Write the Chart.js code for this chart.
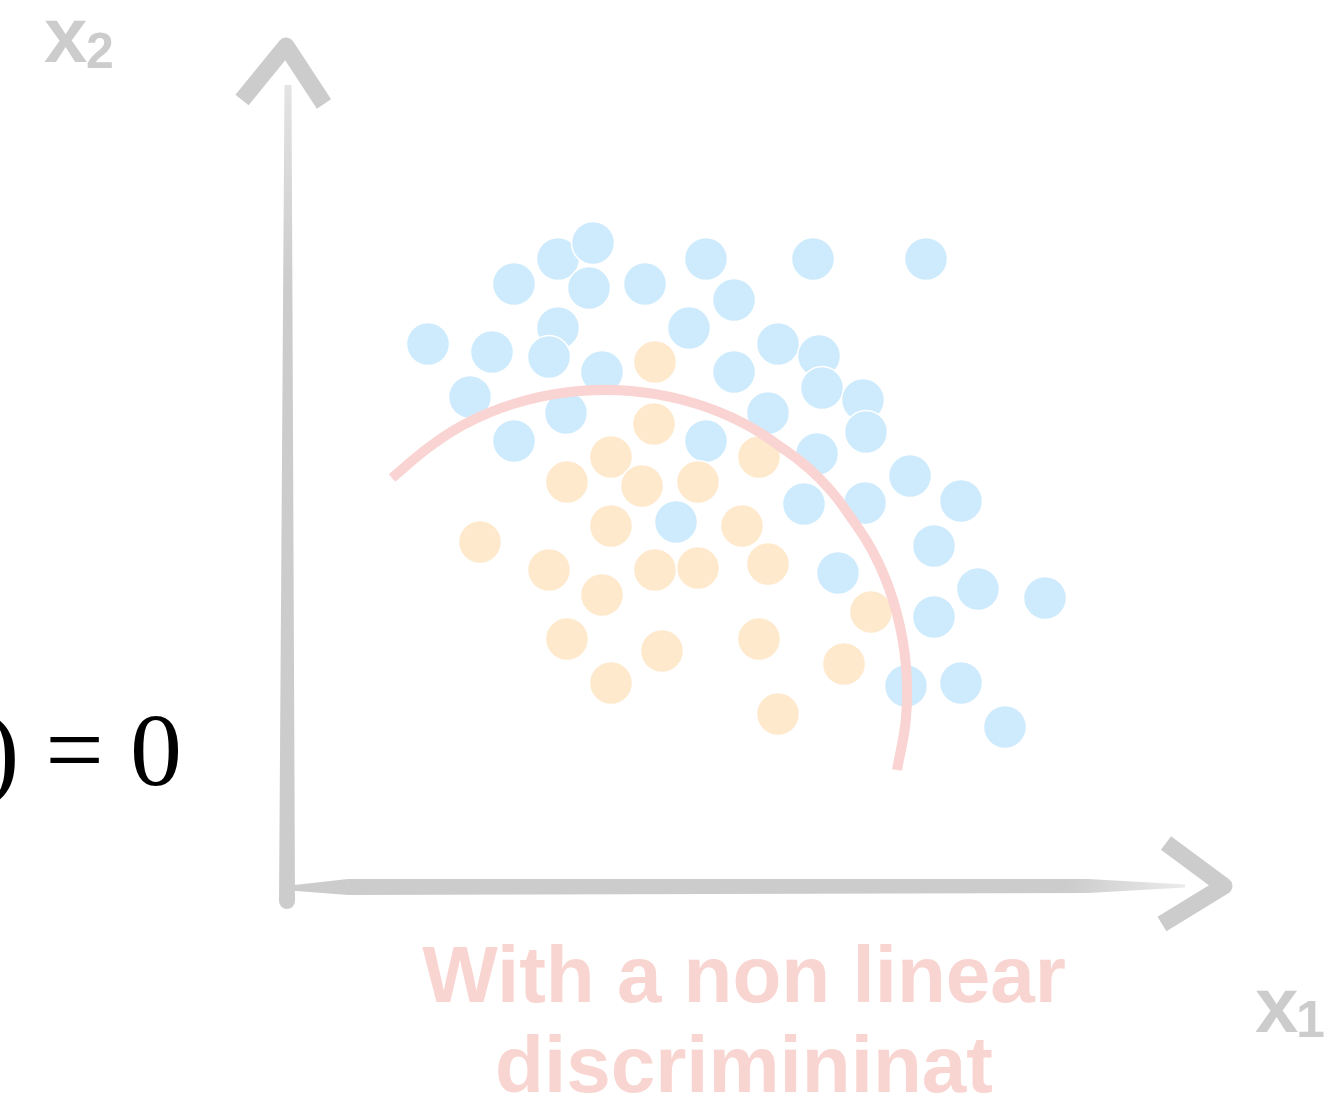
<!DOCTYPE html>
<html>
<head>
<meta charset="utf-8">
<script src="https://cdn.jsdelivr.net/npm/chart.js@4/dist/chart.umd.min.js"></script>
<style>
  body { margin: 0; background: #fff; }
  #wrap { position: relative; width: 1336px; height: 1110px; overflow: hidden; }
  .lbl { position: absolute; line-height: 1; white-space: pre; }
  .gray { color: #cccccc; font-family: "Liberation Sans", Arial, sans-serif; font-weight: bold; }
  .pink { color: #f9d5d1; font-family: "Liberation Sans", Arial, sans-serif; font-weight: bold;
          font-size: 80px; width: 1336px; text-align: center; }
</style>
</head>
<body>
<div id="wrap">
  <canvas id="chart" width="1336" height="1110"></canvas>
  <div class="lbl gray" style="left:44px;top:-4px;font-size:78px">x</div>
  <div class="lbl gray" style="left:86px;top:26px;font-size:50px">2</div>
  <div class="lbl gray" style="left:1255px;top:966px;font-size:78px">x</div>
  <div class="lbl gray" style="left:1296px;top:993px;font-size:52px">1</div>
  <div class="lbl" style="right:1154px;top:698px;font-size:104px;font-family:'Liberation Serif',serif;color:#000">) = 0</div>
  <div class="lbl pink" style="top:935px;left:76px">With a non linear</div>
  <div class="lbl pink" style="top:1025px;left:76px">discrimininat</div>
</div>
<script>
// class A (blue, outer ring)
const blueX = [14.0, 22.6, 27.0, 30.5, 30.1, 35.7, 41.8, 52.5, 63.8, 44.6,
               27.0, 20.4, 26.1, 40.1, 31.4, 44.6, 49.0, 53.1, 53.4, 57.5,
               57.8, 18.2, 27.8, 22.6, 48.0, 41.8, 52.9, 62.2, 67.3, 51.6,
               57.7, 38.8, 64.6, 55.0, 69.0, 64.6, 61.8, 67.3, 71.7, 75.7];
const blueY = [54.2, 60.2, 62.7, 64.3, 59.8, 60.2, 62.7, 62.7, 62.7, 58.6,
               55.8, 53.4, 52.9, 55.8, 51.4, 51.4, 54.2, 53.0, 49.8, 48.6,
               45.4, 48.9, 47.3, 44.5, 47.3, 44.5, 43.2, 41.0, 38.5, 38.2,
               38.3, 36.4, 34.0, 31.3, 29.7, 26.9, 20.0, 20.3, 15.9, 28.8];

// class B (orange, inner cluster)
const orangeX = [36.7, 36.6, 32.3, 27.9, 35.4, 41.0, 47.1, 32.3, 45.4, 19.2, 26.1,
                 31.4, 36.7, 41.0, 48.0, 58.3, 27.9, 37.4, 47.1, 55.6, 32.3, 49.0];
const orangeY = [52.4, 46.2, 42.9, 40.4, 40.0, 40.4, 42.9, 36.0, 36.0, 34.4, 31.6,
                 29.1, 31.6, 31.8, 32.2, 27.4, 24.7, 23.5, 24.7, 22.2, 20.3, 17.2];

// non linear boundary
const curveX = [10.4, 14.4, 18.9, 23.9, 29.1, 34.3, 39.5, 44.5, 49.0, 53.1, 56.4, 59.1, 60.9, 61.8, 61.8, 60.9];
const curveY = [40.8, 44.1, 46.8, 48.6, 49.5, 49.5, 48.6, 46.8, 44.1, 40.8, 36.7, 32.2, 27.2, 22.0, 16.8, 11.6];

// hand drawn axes (data units)
const axisTop = 80.1;
const axisBottom = -2.1;
const axisRight = 89.7;
const arrowUp = [[-4.6, 78.6], [-0.2, 84.0], [3.6, 78.2]];
const arrowRight = [[87.8, 4.3], [93.6, 0], [87.4, -3.8]];

const toPoints = (xs, ys) => xs.map((v, i) => ({ x: v, y: ys[i] }));

function taper(ctx, x1, y1, x2, y2, w1, w2) {
  const dx = x2 - x1, dy = y2 - y1;
  const len = Math.hypot(dx, dy);
  const nx = -dy / len, ny = dx / len;
  ctx.beginPath();
  ctx.moveTo(x1 + nx * w1 / 2, y1 + ny * w1 / 2);
  ctx.lineTo(x2 + nx * w2 / 2, y2 + ny * w2 / 2);
  ctx.lineTo(x2 - nx * w2 / 2, y2 - ny * w2 / 2);
  ctx.lineTo(x1 - nx * w1 / 2, y1 - ny * w1 / 2);
  ctx.closePath();
  ctx.fill();
}

const sketchAxes = {
  id: "sketchAxes",
  beforeDatasetsDraw(chart) {
    const { ctx, scales: { x, y } } = chart;
    const px = (v) => x.getPixelForValue(v);
    const py = (v) => y.getPixelForValue(v);
    ctx.save();
    ctx.strokeStyle = "#cccccc";

    // y axis: solid at the bottom, streaky towards the arrow
    const x0 = px(-0.1);
    const gy = ctx.createLinearGradient(0, py(axisTop), 0, py(60));
    gy.addColorStop(0, "rgba(204,204,204,0.55)");
    gy.addColorStop(1, "rgba(204,204,204,1)");
    ctx.fillStyle = gy;
    taper(ctx, x0, py(axisBottom) - 6, x0 + 1, py(axisTop), 16, 7);
    ctx.beginPath();
    ctx.ellipse(x0, py(axisBottom) - 6, 8, 8, 0, 0, Math.PI);
    ctx.fill();

    // x axis: narrow start, broad body, fading streaks at the end
    const y0 = py(-0.1);
    const gx = ctx.createLinearGradient(px(78), 0, px(axisRight), 0);
    gx.addColorStop(0, "rgba(204,204,204,1)");
    gx.addColorStop(1, "rgba(204,204,204,0.4)");
    ctx.fillStyle = gx;
    taper(ctx, px(0.2), y0 + 1, px(6), y0, 5, 16);
    taper(ctx, px(6), y0, px(80), y0 - 1, 16, 14);
    taper(ctx, px(80), y0 - 1, px(axisRight), y0 - 1, 14, 3);

    // arrow heads
    ctx.lineWidth = 17;
    ctx.lineCap = "butt";
    ctx.lineJoin = "round";
    [arrowUp, arrowRight].forEach((arr) => {
      ctx.beginPath();
      arr.forEach(([a, b], i) => (i ? ctx.lineTo(px(a), py(b)) : ctx.moveTo(px(a), py(b))));
      ctx.stroke();
    });
    ctx.restore();
  },
};

new Chart(document.getElementById("chart"), {
  type: "scatter",
  data: {
    datasets: [
      {
        type: "line",
        data: toPoints(curveX, curveY),
        borderColor: "#f9d4d2",
        borderWidth: 10,
        borderCapStyle: "butt",
        pointRadius: 0,
        tension: 0.4,
        fill: false,
      },
      {
        data: toPoints(orangeX, orangeY),
        backgroundColor: "#fee9cd",
        borderColor: "#ffffff",
        borderWidth: 1.5,
        pointRadius: 21.5,
      },
      {
        data: toPoints(blueX, blueY),
        backgroundColor: "#ceebfd",
        borderColor: "#ffffff",
        borderWidth: 1.5,
        pointRadius: 21.5,
      },
    ],
  },
  options: {
    responsive: false,
    animation: false,
    events: [],
    layout: { padding: 0, autoPadding: false },
    plugins: { legend: { display: false }, tooltip: { enabled: false } },
    scales: {
      x: { type: "linear", min: -28.8, max: 104.8, display: false },
      y: { type: "linear", min: -22.4, max: 88.6, display: false },
    },
  },
  plugins: [sketchAxes],
});
</script>
</body>
</html>
